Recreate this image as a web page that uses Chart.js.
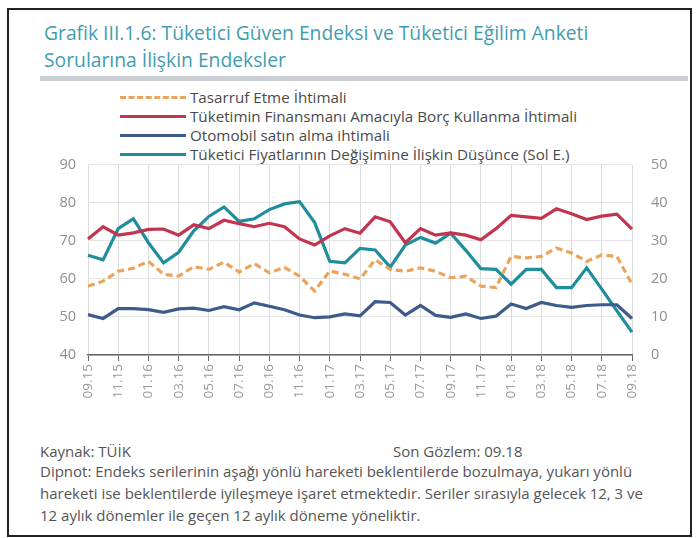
<!DOCTYPE html>
<html>
<head>
<meta charset="utf-8">
<script src="https://cdn.jsdelivr.net/npm/chart.js@4.4.1/dist/chart.umd.min.js"></script>
<style>
  body { margin: 0; background: #fff; width: 696px; height: 538px; position: relative; overflow: hidden; font-family: "Open Sans", "Noto Sans", sans-serif; }
  #frame { position: absolute; left: 7px; top: 8px; width: 681px; height: 525px; border: 2px solid #222; }
  #title { position: absolute; left: 44px; top: 19px; color: #3f9db2; font-size: 19.3px; line-height: 27px; }
  #bar { position: absolute; left: 40px; top: 76px; width: 648px; height: 5px; background: #cbcfd5; }
  #legend { position: absolute; left: 120px; top: 88px; font-size: 15.2px; color: #4a4a4a; }
  .item { height: 19px; line-height: 19px; display: flex; align-items: center; }
  .swatch { width: 66px; height: 0; margin-right: 4px; }
  #wrap { position: absolute; left: 30px; top: 137px; width: 650px; height: 285px; }
  .note { position: absolute; font-size: 15px; color: #555; white-space: nowrap; }
</style>
</head>
<body>
<div id="frame"></div>
<div id="title">Grafik III.1.6: Tüketici Güven Endeksi ve Tüketici Eğilim Anketi<br>Sorularına İlişkin Endeksler</div>
<div id="bar"></div>
<div id="legend"></div>
<div id="wrap"><canvas id="myChart"></canvas></div>
<div class="note" style="left:40px; top:441px;">Kaynak: TÜİK</div>
<div class="note" style="left:393px; top:441px;">Son Gözlem: 09.18</div>
<div class="note" style="left:40px; top:461px;">Dipnot: Endeks serilerinin aşağı yönlü hareketi beklentilerde bozulmaya, yukarı yönlü</div>
<div class="note" style="left:40px; top:483px;">hareketi ise beklentilerde iyileşmeye işaret etmektedir. Seriler sırasıyla gelecek 12, 3 ve</div>
<div class="note" style="left:40px; top:505px;">12 aylık dönemler ile geçen 12 aylık döneme yöneliktir.</div>
<script>
var months = ['09.15','10.15','11.15','12.15','01.16','02.16','03.16','04.16','05.16','06.16','07.16','08.16',
  '09.16','10.16','11.16','12.16','01.17','02.17','03.17','04.17','05.17','06.17','07.17','08.17',
  '09.17','10.17','11.17','12.17','01.18','02.18','03.18','04.18','05.18','06.18','07.18','08.18','09.18'];

// right axis
var tasarruf = [18.1, 19.4, 22, 22.8, 24.6, 21.2, 20.7, 23.2, 22.5, 24.4, 21.8, 24, 21.6, 23, 20.7, 16.8, 22.1, 21.2,
  20, 25, 22.5, 22, 22.9, 22, 20.3, 20.7, 18.1, 17.7, 25.9, 25.5, 25.9, 28.1, 26.8, 24.6, 26.3, 25.9, 18.6];
var borc = [30.5, 33.7, 31.5, 32.1, 33, 33.1, 31.5, 34.2, 33.2, 35.4, 34.5, 33.7, 34.6, 33.7, 30.5, 28.9, 31.3, 33.2,
  32, 36.3, 35, 29.5, 33.2, 31.5, 32.1, 31.5, 30.3, 33.2, 36.7, 36.3, 35.9, 38.4, 37.1, 35.6, 36.5, 37, 33.1];
var otomobil = [10.6, 9.6, 12.2, 12.2, 11.9, 11.2, 12.1, 12.3, 11.7, 12.7, 11.9, 13.7, 12.8, 11.9, 10.5, 9.8, 10, 10.8,
  10.3, 14, 13.8, 10.5, 13, 10.4, 9.9, 10.8, 9.6, 10.2, 13.4, 12.2, 13.8, 13, 12.5, 13, 13.2, 13.2, 9.6];
// left axis (Sol E.)
var fiyat = [66.2, 65, 73.2, 75.8, 69.5, 64.2, 67, 72.6, 76.4, 78.9, 75.1, 75.8, 78.2, 79.7, 80.3, 74.8, 64.6, 64.2,
  68, 67.6, 63.1, 68.9, 70.9, 69.4, 72, 67.5, 62.7, 62.5, 58.6, 62.5, 62.5, 57.7, 57.7, 62.9, 57.3, 51.6, 46];

var leftTicks = [40, 50, 60, 70, 80, 90];
var rightTicks = [0, 10, 20, 30, 40, 50];

var datasets = [
  { label: 'Tasarruf Etme İhtimali', data: tasarruf, yAxisID: 'y1', borderColor: '#eaa45c', borderDash: [7, 4] },
  { label: 'Tüketimin Finansmanı Amacıyla Borç Kullanma İhtimali', data: borc, yAxisID: 'y1', borderColor: '#c2354f' },
  { label: 'Otomobil satın alma ihtimali', data: otomobil, yAxisID: 'y1', borderColor: '#3d5b8b' },
  { label: 'Tüketici Fiyatlarının Değişimine İlişkin Düşünce (Sol E.)', data: fiyat, yAxisID: 'y', borderColor: '#1f8e9c' }
];
datasets.forEach(function (d) {
  d.borderWidth = 3.2;
  d.pointRadius = 0;
  d.tension = 0;
  d.fill = false;
});

// legend, one row per series
var legend = document.getElementById('legend');
datasets.forEach(function (d) {
  var row = document.createElement('div');
  row.className = 'item';
  var sw = document.createElement('span');
  sw.className = 'swatch';
  sw.style.borderTop = '3px ' + (d.borderDash ? 'dashed ' : 'solid ') + d.borderColor;
  row.appendChild(sw);
  row.appendChild(document.createTextNode(d.label));
  legend.appendChild(row);
});

var tickFont = { family: 'Open Sans', size: 14.5 };

var ctx = document.getElementById('myChart').getContext('2d');
var chart = new Chart(ctx, {
  type: 'line',
  data: { labels: months, datasets: datasets },
  options: {
    responsive: true,
    maintainAspectRatio: false,
    animation: false,
    layout: { padding: { top: 10, left: 0, right: 0, bottom: 0 } },
    plugins: { legend: { display: false }, tooltip: { enabled: false } },
    scales: {
      x: {
        grid: {
          color: function (c) { return c.index % 2 ? 'rgba(0,0,0,0)' : '#dcdcdc'; },
          tickColor: function (c) { return c.index % 2 ? 'rgba(0,0,0,0)' : '#666'; },
          tickLength: 6
        },
        border: { color: '#666', width: 1.5 },
        ticks: {
          autoSkip: false,
          minRotation: 90,
          maxRotation: 90,
          padding: 3,
          color: '#999',
          font: { family: 'Open Sans', size: 13.5 },
          callback: function (v, i) { return i % 2 ? '' : months[i]; }
        },
        afterFit: function (s) { s.height = 67; }
      },
      y: {
        position: 'left',
        min: leftTicks[0],
        max: leftTicks[leftTicks.length - 1],
        afterBuildTicks: function (s) { s.ticks = leftTicks.map(function (v) { return { value: v }; }); },
        grid: { color: '#e3e3e3', drawTicks: false },
        border: { display: false },
        ticks: { color: '#8f8f8f', font: tickFont, padding: 12 },
        afterFit: function (s) { s.width = 58; }
      },
      y1: {
        position: 'right',
        min: rightTicks[0],
        max: rightTicks[rightTicks.length - 1],
        afterBuildTicks: function (s) { s.ticks = rightTicks.map(function (v) { return { value: v }; }); },
        grid: { drawOnChartArea: false, drawTicks: false },
        border: { display: false },
        ticks: { color: '#8f8f8f', font: tickFont, padding: 19 },
        afterFit: function (s) { s.width = 48; }
      }
    }
  }
});
</script>
</body>
</html>
